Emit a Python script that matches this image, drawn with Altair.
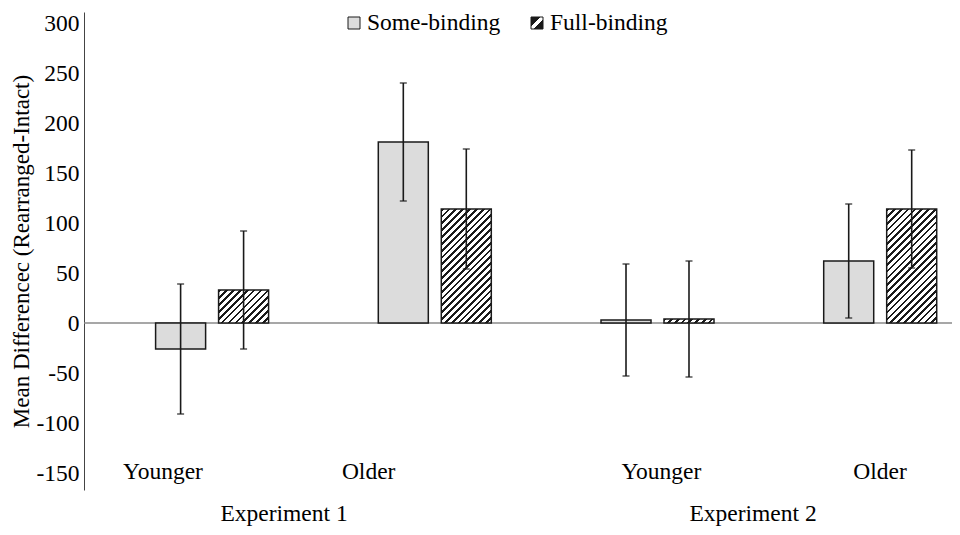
import altair as alt
import pandas as pd

# ---------------- data ----------------
groups = ["E1-Younger", "E1-Older", "E2-Younger", "E2-Older"]
age_labels = ["Younger", "Older", "Younger", "Older"]
experiment_labels = ["Experiment 1", "Experiment 2"]
series = ["Some-binding", "Full-binding"]
some_mean = [-26, 181, 3, 62]
some_err = [65, 59, 56, 57]
full_mean = [33, 114, 4, 114]
full_err = [59, 60, 58, 59]
y_ticks = [-150, -100, -50, 0, 50, 100, 150, 200, 250, 300]
y_title = "Mean Differencec (Rearranged-Intact)"

rows = []
for i, g in enumerate(groups):
    rows.append(dict(group=g, series="Some-binding", mean=some_mean[i],
                     lo=some_mean[i] - some_err[i], hi=some_mean[i] + some_err[i], base=0))
    rows.append(dict(group=g, series="Full-binding", mean=full_mean[i],
                     lo=full_mean[i] - full_err[i], hi=full_mean[i] + full_err[i], base=0))
df = pd.DataFrame(rows)

# ---------------- style ----------------
FONT = "Liberation Serif"
FS = 23.5
INK = "#1a1a1a"
W, H = 868, 478
Y_DOMAIN = [-167, 311]
PX_PER_UNIT = H / (Y_DOMAIN[1] - Y_DOMAIN[0])
BAR_W = 50.0


def hatch(w, h, period=6.7, ink=0.4):
    """diagonal '////' hatch as a sharp-stop linear gradient (bbox units)"""
    h = max(h, 1.0)
    L = w + h
    k = w * (w + h) / (w * w + h * h)
    n = max(1, int(round(L / period)))
    stops = []
    for j in range(n):
        a, b, c = j / n, (j + ink) / n, (j + 1) / n
        stops += [dict(offset=a, color=INK), dict(offset=b, color=INK),
                  dict(offset=b, color="white"), dict(offset=c, color="white")]
    return dict(gradient="linear", x1=0, y1=0, x2=k, y2=k * h / w, stops=stops)


x_enc = alt.X("group:N", sort=groups, axis=None,
              scale=alt.Scale(range=[16.6, 907.4], paddingInner=0, paddingOuter=0))
xo_enc = alt.XOffset("series:N", sort=series,
                     scale=alt.Scale(range=[55, 168], paddingInner=0.206, paddingOuter=0))
y_scale = alt.Scale(domain=Y_DOMAIN, nice=False, zero=False)
y_axis = alt.Axis(values=y_ticks, ticks=False, grid=False, domainColor="#444", domainWidth=1,
                  labelFont=FONT, labelFontSize=FS, labelColor="black", labelPadding=5,
                  labelExpr="'' + datum.value",
                  title=y_title, titleFont=FONT, titleFontSize=23, titleFontWeight="normal",
                  titleColor="black", titlePadding=2)

base = alt.Chart(df)

zero_line = alt.Chart(pd.DataFrame({"zero": [0]})).mark_rule(
    color="#8a8a8a", strokeWidth=1.3).encode(
    y=alt.Y("zero:Q", scale=y_scale, axis=y_axis))

some_bars = base.transform_filter(alt.datum.series == "Some-binding").mark_bar(
    fill="#dcdcdc", stroke=INK, strokeWidth=1.5).encode(
    x=x_enc, xOffset=xo_enc,
    y=alt.Y("mean:Q", scale=y_scale), y2="base:Q")

full_layers = []
for i, g in enumerate(groups):
    h_px = abs(full_mean[i]) * PX_PER_UNIT
    full_layers.append(
        base.transform_filter((alt.datum.series == "Full-binding") & (alt.datum.group == g))
        .mark_bar(fill=hatch(BAR_W, h_px), stroke=INK, strokeWidth=1.5)
        .encode(x=x_enc, xOffset=xo_enc, y=alt.Y("mean:Q", scale=y_scale), y2="base:Q"))

err_rule = base.mark_rule(color=INK, strokeWidth=1.6).encode(
    x=x_enc, xOffset=xo_enc, y=alt.Y("lo:Q", scale=y_scale), y2="hi:Q")
cap_lo = base.mark_tick(color=INK, thickness=1.6, size=7).encode(
    x=x_enc, xOffset=xo_enc, y=alt.Y("lo:Q", scale=y_scale))
cap_hi = base.mark_tick(color=INK, thickness=1.6, size=7).encode(
    x=x_enc, xOffset=xo_enc, y=alt.Y("hi:Q", scale=y_scale))

# category labels (placed like the original text boxes)
label_dx = [-49, -66, 4, 0]
age_layers = []
for i, g in enumerate(groups):
    age_layers.append(
        alt.Chart(pd.DataFrame({"group": [g], "label": [age_labels[i]]}))
        .mark_text(font=FONT, fontSize=FS, color="black", baseline="middle", dx=label_dx[i])
        .encode(x=x_enc, y=alt.value(460), text="label:N"))

exp_df = pd.DataFrame({"label": experiment_labels, "px": [200, 669]})
exp_text = alt.Chart(exp_df).mark_text(font=FONT, fontSize=FS, color="black", baseline="alphabetic").encode(
    x=alt.X("px:Q", scale=None), y=alt.value(509), text="label:N")

# legend (manual, so the hatch can be shown)
one = pd.DataFrame({"k": [0]})
leg_some_box = alt.Chart(one).mark_rect(fill="#dcdcdc", stroke=INK, strokeWidth=1).encode(
    x=alt.value(264), x2=alt.value(276), y=alt.value(5), y2=alt.value(17))
leg_full_box = alt.Chart(one).mark_rect(
    fill=dict(gradient="linear", x1=0, y1=0, x2=1, y2=1,
              stops=[dict(offset=0, color=INK), dict(offset=0.4, color=INK),
                     dict(offset=0.4, color="white"), dict(offset=0.62, color="white"),
                     dict(offset=0.62, color=INK), dict(offset=1, color=INK)]),
    stroke=INK, strokeWidth=1).encode(
    x=alt.value(447), x2=alt.value(459), y=alt.value(5), y2=alt.value(17))
leg_text = alt.Chart(pd.DataFrame({"label": series, "px": [283, 466]})).mark_text(
    font=FONT, fontSize=FS, color="black", align="left", baseline="middle").encode(
    x=alt.X("px:Q", scale=None), y=alt.value(11), text="label:N")

chart = alt.layer(
    zero_line, some_bars, *full_layers, err_rule, cap_lo, cap_hi,
    *age_layers, exp_text, leg_some_box, leg_full_box, leg_text
).properties(
    width=W, height=H,
    autosize=alt.AutoSizeParams(type="none"),
    padding={"left": 76, "top": 4, "right": 0, "bottom": 37},
    background="white",
).configure_view(stroke=None)

chart.save("out.html", embed_options={"renderer": "svg", "actions": False})
